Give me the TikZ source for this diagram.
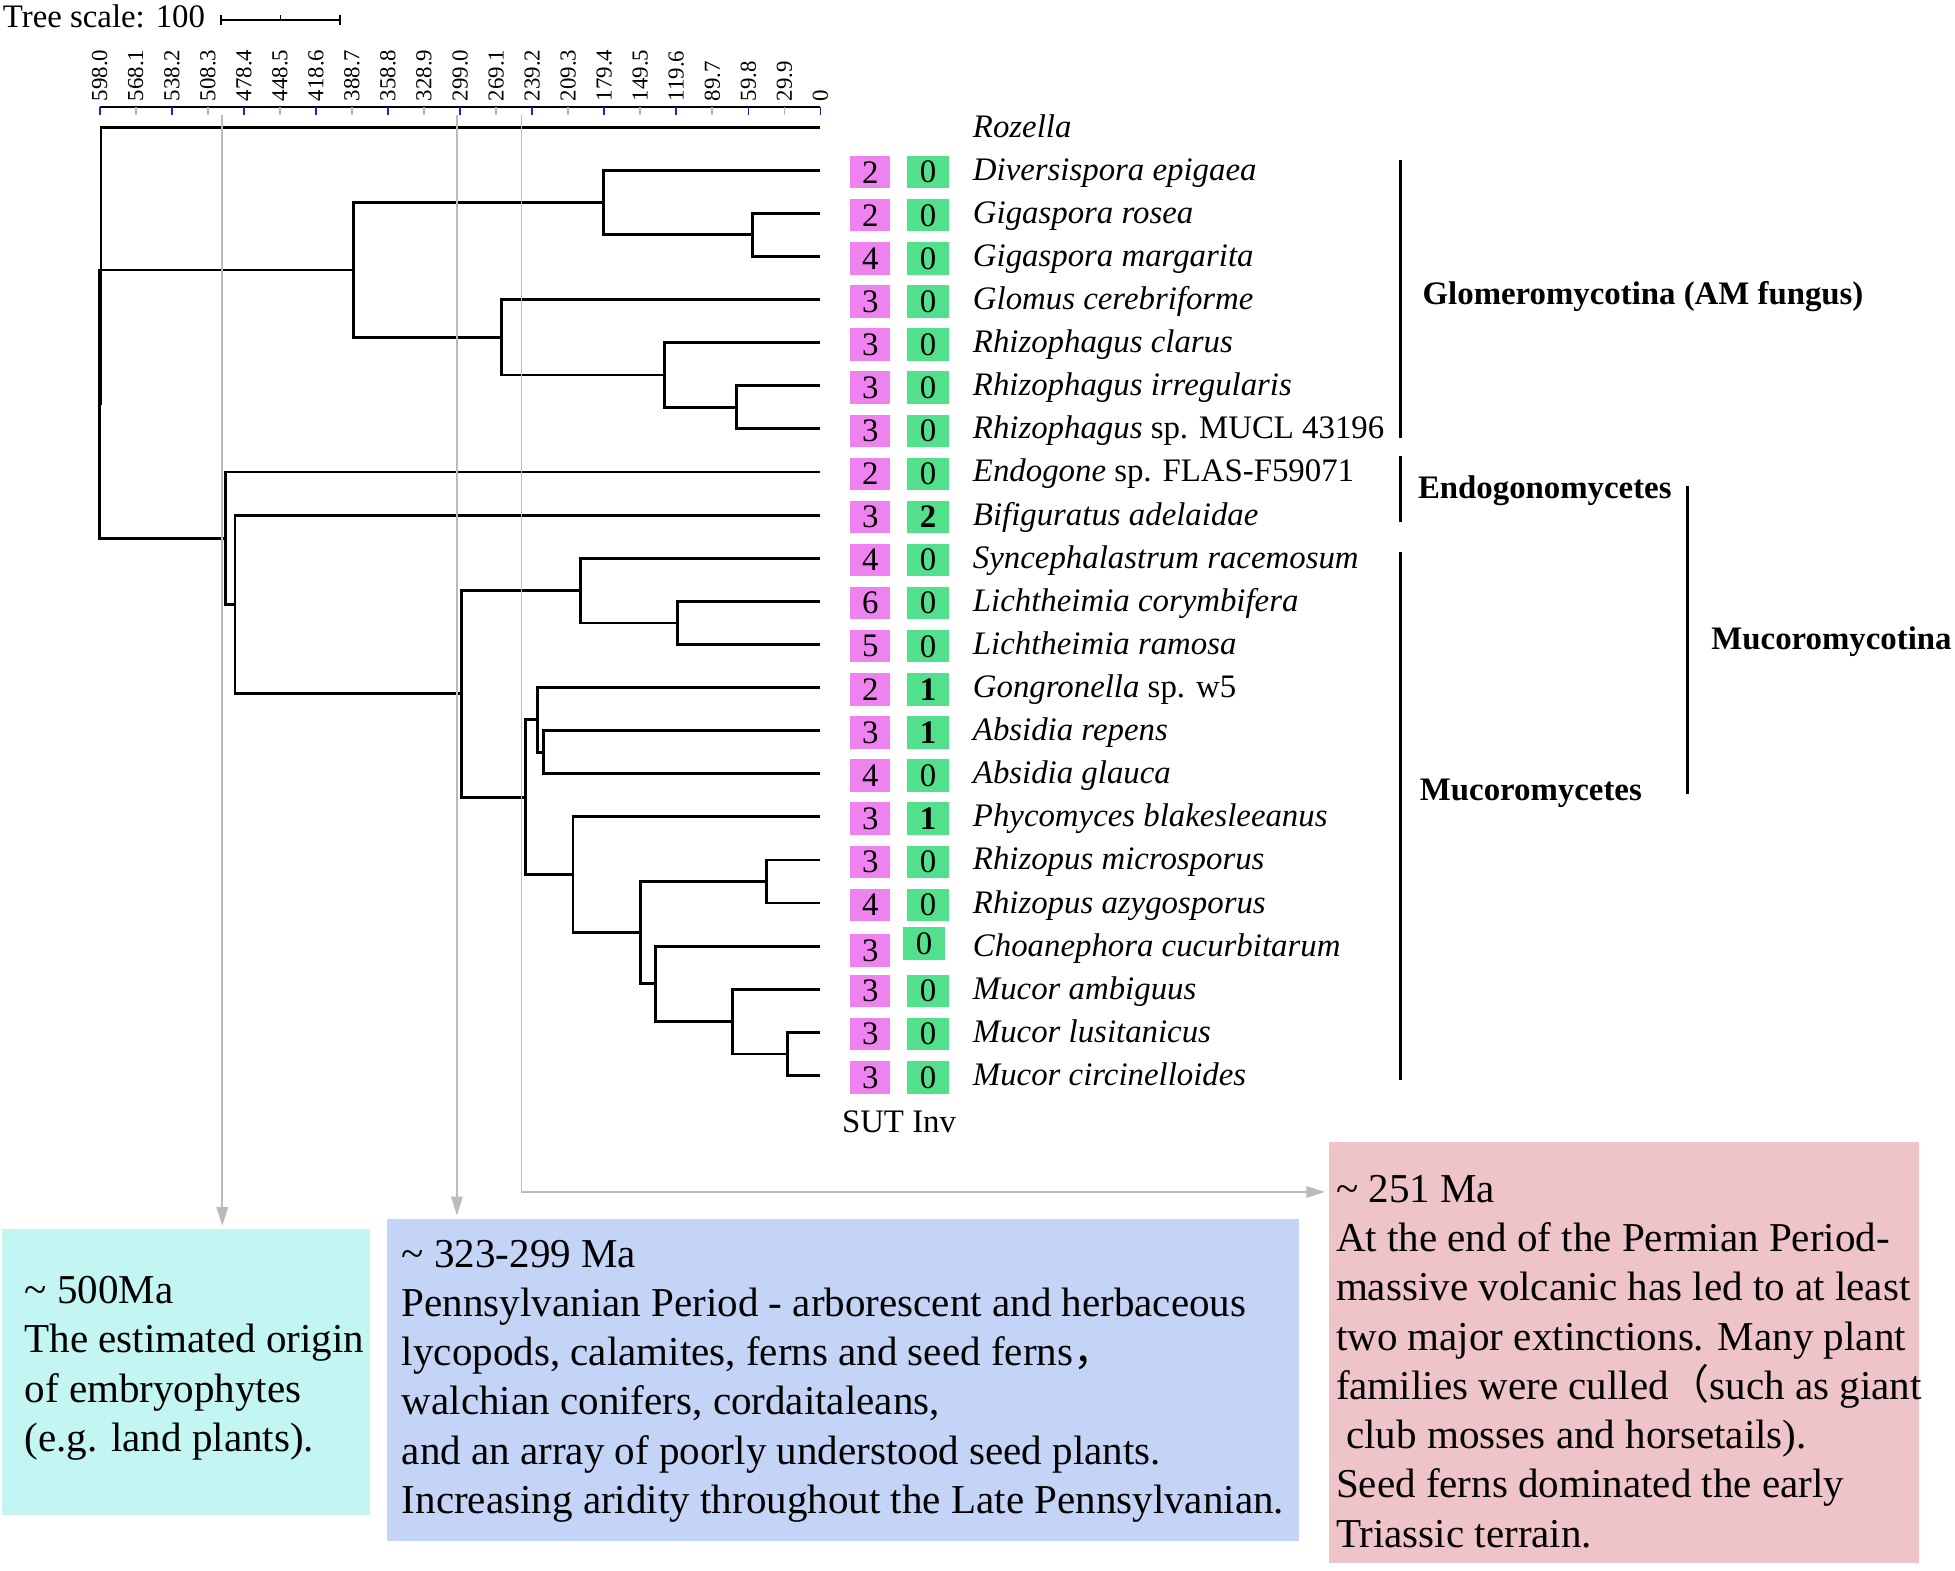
\documentclass[tikz,border=0pt]{standalone}
\usepackage{fontspec}
\setmainfont{Liberation Serif}
\newfontfamily\cjk{Noto Sans CJK SC}
\definecolor{sutPink}{HTML}{EE82EE}
\definecolor{invGreen}{HTML}{52E08C}
\definecolor{noteCyan}{HTML}{C3F6F3}
\definecolor{noteBlue}{HTML}{C4D4F6}
\definecolor{noteRose}{HTML}{EEC4C8}
\definecolor{eraGray}{HTML}{BBBBBB}
\definecolor{tickBlue}{HTML}{2020C8}
\definecolor{tickGray}{HTML}{B4B4B4}
\newcommand\treefont{\fontsize{15.8}{19}\selectfont}
\newcommand\notefont{\fontsize{19.75}{23.7}\selectfont}
\usepackage{tikz}
\usetikzlibrary{calc,arrows.meta}

\begin{document}
\begin{tikzpicture}[x=0.6pt, y=-0.6pt,
  branch/.style={line width=1.35pt},
  taxon/.style={anchor=base west, inner sep=0pt, font=\treefont},
  clade/.style={anchor=base west, inner sep=0pt, font=\treefont\bfseries},
  cladebar/.style={line width=1.3pt},
  tally/.style={minimum height=15.6pt, inner sep=0pt, font=\treefont},
  ticklab/.style={rotate=90, anchor=west, inner sep=0pt, font=\fontsize{11}{13}\selectfont},
  notebox/.style={inner sep=0pt},
  notetext/.style={anchor=north west, inner sep=0pt, align=left, font=\notefont},
  era/.style={draw=eraGray, line width=0.9pt, shorten >=1.5pt, -{Triangle[length=9pt, width=5.5pt]}}
]
  \useasboundingbox (0,0) rectangle (1568,1260);

  \node[taxon] (scaletxt) at (2,22) {Tree scale: 100};
  \coordinate (sbL) at (177,16);
  \coordinate (sbR) at (272.8,16);
  \draw[line width=0.9pt] (sbL) -- (sbR);
  \draw[line width=0.9pt] ($(sbL)+(0,-4)$) -- ++(0,8);
  \draw[line width=0.9pt] ($(sbR)+(0,-4)$) -- ++(0,8);
  \draw[line width=0.6pt] ($(sbL)!.5!(sbR)$) -- ++(0,-4);

  \draw[line width=1pt] (80,86) -- (658,86);
  \foreach \lab [count=\idx from 0] in {598.0,568.1,538.2,508.3,478.4,448.5,418.6,388.7,358.8,328.9,299.0,269.1,239.2,209.3,179.4,149.5,119.6,89.7,59.8,29.9,0}{
    \ifodd\idx \def\tc{tickGray}\else \def\tc{tickBlue}\fi
    \draw[\tc, line width=0.8pt] (80+28.9*\idx,86) -- ++(0,6);
    \node[ticklab] (tick\idx) at (80+28.9*\idx,81.5) {\lab};
  }

  \foreach \leaf/\name [count=\i from 0] in {roz/\textit{Rozella}, dive/\textit{Diversispora epigaea}, gros/\textit{Gigaspora rosea}, gmar/\textit{Gigaspora margarita}, glom/\textit{Glomus cerebriforme}, rcla/\textit{Rhizophagus clarus}, rirr/\textit{Rhizophagus irregularis}, rmuc/\textit{Rhizophagus} sp. MUCL 43196, endo/\textit{Endogone} sp. FLAS-F59071, bifi/\textit{Bifiguratus adelaidae}, sync/\textit{Syncephalastrum racemosum}, lcor/\textit{Lichtheimia corymbifera}, lram/\textit{Lichtheimia ramosa}, gong/\textit{Gongronella} sp. w5, arep/\textit{Absidia repens}, agla/\textit{Absidia glauca}, phyc/\textit{Phycomyces blakesleeanus}, rmic/\textit{Rhizopus microsporus}, razy/\textit{Rhizopus azygosporus}, choa/\textit{Choanephora cucurbitarum}, mamb/\textit{Mucor ambiguus}, mlus/\textit{Mucor lusitanicus}, mcir/\textit{Mucor circinelloides}}{
    \coordinate (\leaf) at (658,{102+34.57*\i});
    \node[taxon] (lab-\leaf) at (780,{110+34.57*\i}) {\name};
  }

  \coordinate (root) at (81,213.05);
  \coordinate (n2) at (79.6,324.1);
  \coordinate (glo) at (283.7,216.5);
  \coordinate (gA) at (484.3,162.5);
  \coordinate (gG) at (603.6,188.4);
  \coordinate (gB) at (402.5,270.5);
  \coordinate (gR) at (533.1,300.8);
  \coordinate (gR2) at (591,326.7);
  \coordinate (muc) at (180.6,431.7);
  \coordinate (mB) at (188.4,484.8);
  \coordinate (mM) at (369.9,556.5);
  \coordinate (mS) at (465.6,473.6);
  \coordinate (mL) at (543.5,499.6);
  \coordinate (mR) at (421.2,639.5);
  \coordinate (mGA) at (431.2,577.3);
  \coordinate (mAb) at (436,603.3);
  \coordinate (mP) at (459.5,701.6);
  \coordinate (mQ) at (513.9,748);
  \coordinate (mRh) at (614.9,707);
  \coordinate (mC) at (525.7,789.1);
  \coordinate (mMu) at (587.5,819.3);
  \coordinate (mMl) at (631.4,845.3);

  \foreach \a/\b in {root/roz, root/n2, n2/glo, n2/muc, glo/gA, glo/gB, gA/dive, gA/gG, gG/gros, gG/gmar, gB/glom, gB/gR, gR/rcla, gR/gR2, gR2/rirr, gR2/rmuc, muc/endo, muc/mB, mB/bifi, mB/mM, mM/mS, mM/mR, mS/sync, mS/mL, mL/lcor, mL/lram, mR/mGA, mR/mP, mGA/gong, mGA/mAb, mAb/arep, mAb/agla, mP/phyc, mP/mQ, mQ/mRh, mQ/mC, mRh/rmic, mRh/razy, mC/choa, mC/mMu, mMu/mamb, mMu/mMl, mMl/mlus, mMl/mcir}
    \draw[branch] (\a) |- (\b);

  \foreach \s/\v/\r in {2/0/1, 2/0/2, 4/0/3, 3/0/4, 3/0/5, 3/0/6, 3/0/7, 2/0/8, 3/\textbf{2}/9, 4/0/10, 6/0/11, 5/0/12, 2/\textbf{1}/13, 3/\textbf{1}/14, 4/0/15, 3/\textbf{1}/16, 3/0/17, 4/0/18, 3/0/20, 3/0/21, 3/0/22}{
    \node[tally, fill=sutPink, minimum width=19.2pt] (sut\r) at (698,{103.5+34.57*\r}) {\s};
    \node[tally, fill=invGreen, minimum width=20pt] (inv\r) at (744.3,{103.5+34.57*\r}) {\v};
  }
  \node[tally, fill=sutPink, minimum width=19.2pt] (sut19) at (698,{105.5+34.57*19}) {3};
  \node[tally, fill=invGreen, minimum width=20pt] (inv19) at (741.2,{100+34.57*19}) {0};
  \node[taxon] (colhead) at (675,908.5) {SUT Inv};

  \draw[cladebar] (1123,128.7) -- (1123,351.6);
  \draw[cladebar] (1123,366) -- (1123,418.3);
  \draw[cladebar] (1123,443) -- (1123,866);
  \draw[cladebar] (1353.7,390) -- (1353.7,636.6);
  \node[clade] (glomLab) at (1140.7,244.5) {Glomeromycotina (AM fungus)};
  \node[clade] (endoLab) at (1137,400) {Endogonomycetes};
  \node[clade] (mucLab) at (1138.5,642) {Mucoromycetes};
  \node[clade] (mucoLab) at (1372.3,521) {Mucoromycotina};

  \node[notebox, fill=noteCyan, minimum width=177pt, minimum height=137.4pt] (box500) at (149.5,1100.5) {};
  \node[notebox, fill=noteBlue, minimum width=438.9pt, minimum height=155pt] (box299) at (676.25,1106.8) {};
  \node[notebox, fill=noteRose, minimum width=284.4pt, minimum height=202.7pt] (box251) at (1302.5,1084.5) {};

  \node[notetext] (note500) at (19.4,1023.3) {\textasciitilde{} 500Ma\\The estimated origin\\of embryophytes\\(e.g. land plants).};
  \node[notetext] (note299) at (322,994.1) {\textasciitilde{} 323-299 Ma\\Pennsylvanian Period - arborescent and herbaceous\\lycopods, calamites, ferns and seed ferns{\cjk ，}\\walchian conifers, cordaitaleans,\\and an array of poorly understood seed plants.\\Increasing aridity throughout the Late Pennsylvanian.};
  \node[notetext] (note251) at (1071.2,942.2) {\textasciitilde{} 251 Ma\\At the end of the Permian Period-\\massive volcanic has led to at least\\two major extinctions. Many plant\\families were culled{\cjk （}such as giant\\\hspace*{.25em}club mosses and horsetails).\\Seed ferns dominated the early\\Triassic terrain.};

  \coordinate (t500) at (178.3,92);
  \coordinate (t299) at (366.5,92);
  \coordinate (t251) at (418.3,92);
  \coordinate (bend251) at (418.3,956);
  \draw[era] (t500) -- (t500 |- box500.north);
  \draw[era] (t299) -- (t299 |- box299.north);
  \draw[era] (t251) -- (bend251) -- (bend251 -| box251.west);
\end{tikzpicture}
\end{document}
